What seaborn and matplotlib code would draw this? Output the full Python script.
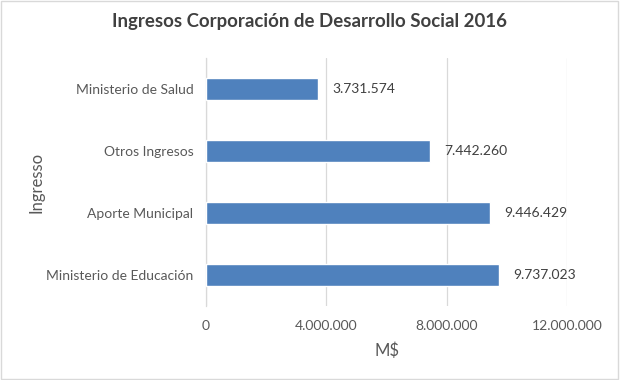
import matplotlib
matplotlib.use('Agg')
import matplotlib.pyplot as plt
import seaborn as sns
import pandas as pd
from matplotlib.ticker import FuncFormatter

categorias = ['Ministerio de Salud', 'Otros Ingresos', 'Aporte Municipal', 'Ministerio de Educación']
montos = [3731574, 7442260, 9446429, 9737023]
ticks_x = [0, 4000000, 8000000, 12000000]


def miles(v, pos=None):
    return '{:,.0f}'.format(v).replace(',', '.')


sns.set_theme(style='white')
plt.rcParams['font.family'] = ['Lato', 'DejaVu Sans']

df = pd.DataFrame({'Ingreso': categorias, 'M$': montos})

fig = plt.figure(figsize=(6.2, 3.8), dpi=100)
ax = fig.add_axes([0.332, 0.195, 0.583, 0.652])

sns.barplot(data=df, y='Ingreso', x='M$', orient='h', color='#4F81BD',
            saturation=1, width=0.36, ax=ax, zorder=3)

ax.set_xlim(0, 12000000)
ax.set_xticks(ticks_x)
ax.xaxis.set_major_formatter(FuncFormatter(miles))
ax.grid(axis='x', color='#d9d9d9', linewidth=0.9, zorder=0)
for s in ['top', 'right', 'bottom']:
    ax.spines[s].set_visible(False)
ax.spines['left'].set_color('#d9d9d9')
ax.spines['left'].set_linewidth(0.9)
ax.tick_params(axis='both', length=0, colors='#595959', labelsize=10)
ax.tick_params(axis='y', pad=9)
ax.tick_params(axis='x', pad=10)

for c in ax.containers:
    ax.bar_label(c, labels=[miles(v) for v in c.datavalues], padding=10,
                 fontsize=10, color='#404040')

ax.set_ylabel('Ingresso', fontsize=12, color='#595959', labelpad=1)
ax.set_xlabel('M$', fontsize=12, color='#595959', labelpad=8)
fig.suptitle('Ingresos Corporación de Desarrollo Social 2016', fontsize=13.4,
             color='#404040', fontweight='bold', y=0.965)

fig.patches.append(plt.Rectangle((0.002, 0.003), 0.995, 0.994, transform=fig.transFigure,
                                 fill=False, edgecolor='#d9d9d9', linewidth=1))

fig.savefig('out.png', dpi=100)
